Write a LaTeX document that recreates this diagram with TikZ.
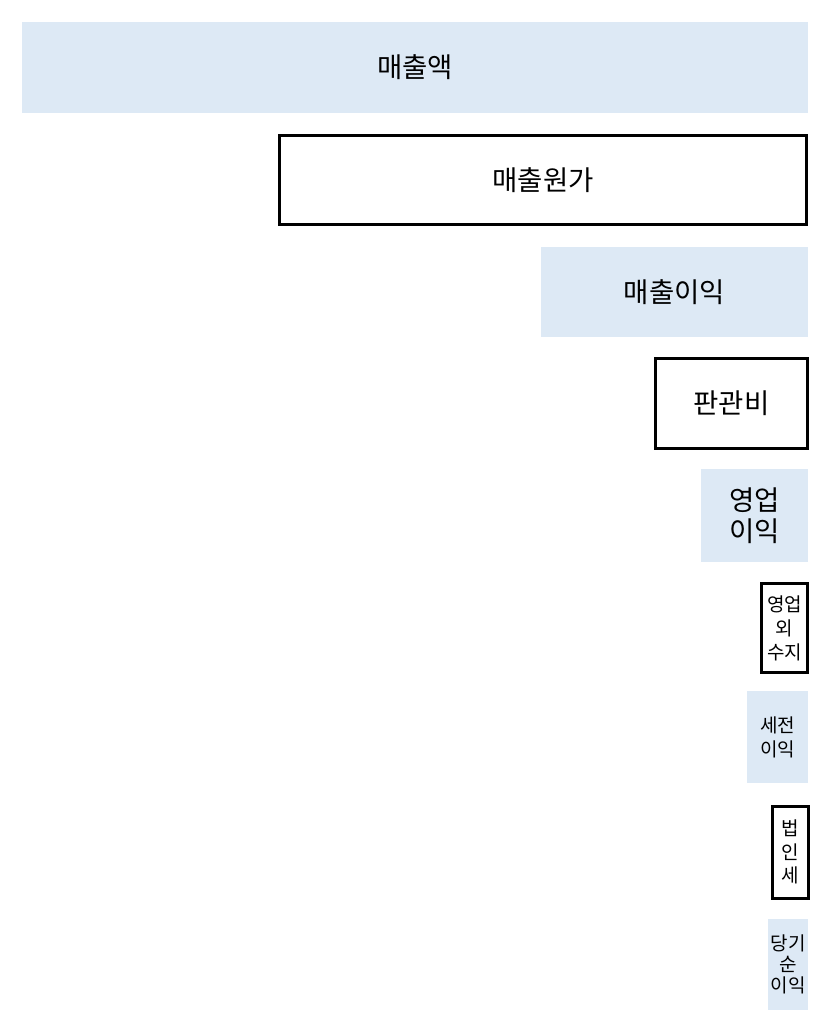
\documentclass[tikz,border=0pt]{standalone}
\usepackage{fontspec}
\newfontfamily\kr{Noto Sans CJK KR}
\definecolor{lblue}{RGB}{221,233,245}
\tikzset{
  bluebox/.style={fill=lblue, draw=none, inner sep=0pt, align=center, text=black},
  linebox/.style={fill=white, draw=black, line width=3pt, inner sep=0pt, align=center, text=black},
  bigtxt/.style={font=\kr\fontsize{27.5}{31}\selectfont},
  smalltxt/.style={font=\kr\fontsize{19}{24}\selectfont}
}
\begin{document}
\begin{tikzpicture}[x=1pt,y=-1pt]
\useasboundingbox[fill=white] (0,0) rectangle (832,1024);
\node[bluebox,bigtxt,minimum width=786pt,minimum height=91pt] (sales) at (415,67.5) {매출액};
\node[linebox,bigtxt,minimum width=527pt,minimum height=89pt] (cogs) at (543,180) {매출원가};
\node[bluebox,bigtxt,minimum width=267pt,minimum height=90pt] (gross) at (674.5,292) {매출이익};
\node[linebox,bigtxt,minimum width=152pt,minimum height=90pt] (sga) at (731.5,403.5) {판관비};
\node[bluebox,bigtxt,minimum width=107pt,minimum height=93pt] (op) at (754.5,515.5) {영업\\이익};
\node[linebox,smalltxt,minimum width=46pt,minimum height=89pt] (nonop) at (784.5,628) {영업\\외\\수지};
\node[bluebox,smalltxt,minimum width=61pt,minimum height=92pt] (pretax) at (777.5,737) {세전\\이익};
\node[linebox,font=\kr\fontsize{19}{23.5}\selectfont,minimum width=36pt,minimum height=92pt] (tax) at (790.5,852) {법\\인\\세};
\node[bluebox,font=\kr\fontsize{19}{21}\selectfont,minimum width=40pt,minimum height=91pt] (net) at (788,964.5) {당기\\순\\이익};
\end{tikzpicture}
\end{document}
